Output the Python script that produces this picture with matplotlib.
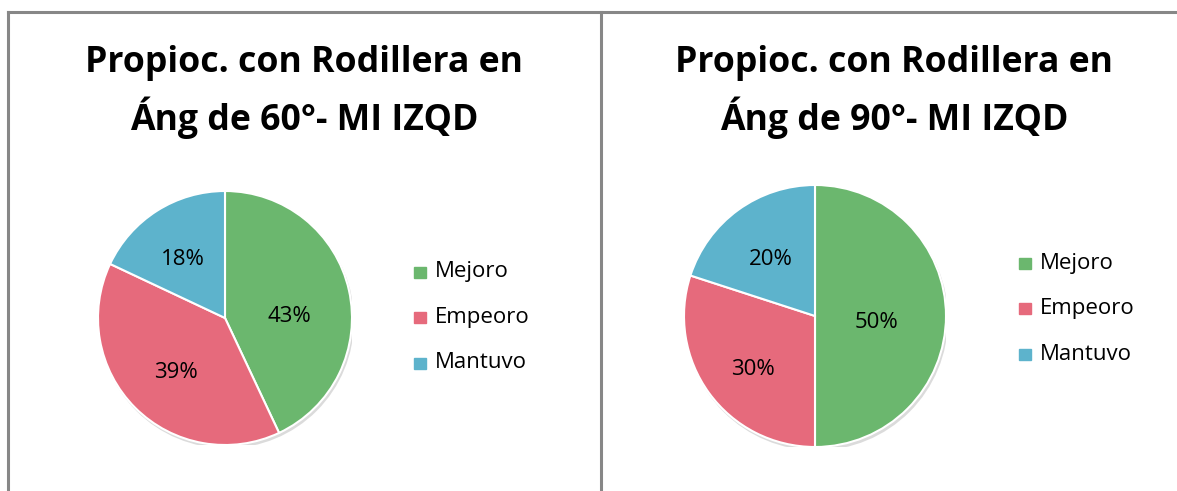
import matplotlib
matplotlib.use("Agg")
import matplotlib.pyplot as plt
from matplotlib.lines import Line2D
from matplotlib.patches import Circle

W, H = 1177, 491
DPI = 100

categories = ["Mejoro", "Empeoro", "Mantuvo"]
values_60 = [43, 39, 18]
values_90 = [50, 30, 20]
titles = [["Propioc. con Rodillera en", "Áng de 60°- MI IZQD"],
          ["Propioc. con Rodillera en", "Áng de 90°- MI IZQD"]]
colors = ["#6BB76E", "#E66A7C", "#5DB3CC"]

plt.rcParams['font.family'] = ['Open Sans', 'DejaVu Sans']

fig = plt.figure(figsize=(W / DPI, H / DPI), dpi=DPI)
fig.patch.set_facecolor("white")

def px(x, y):
    return x / W, 1 - y / H

# panel borders
border = "#878787"
for (x0, y0, x1, y1) in [(8, 12, W, 12), (8, 12, 8, H), (601, 12, 601, H)]:
    a, b = px(x0, y0)
    c, d = px(x1, y1)
    fig.add_artist(Line2D([a, c], [b, d], color=border, lw=2.2, transform=fig.transFigure))

panels = [
    dict(vals=values_60, title=titles[0], cx=225, cy=318, r=127, tx=304,
         lx=420, ly=272,
         lab=[(0.51, 0.01), (-0.39, -0.43), (-0.33, 0.46)]),
    dict(vals=values_90, title=titles[1], cx=815, cy=316, r=131, tx=894,
         lx=1025, ly=263,
         lab=[(0.47, -0.05), (-0.47, -0.41), (-0.34, 0.43)]),
]

for p in panels:
    r = p["r"]
    ax = fig.add_axes([(p["cx"] - r) / W, 1 - (p["cy"] + r) / H, 2 * r / W, 2 * r / H])
    ax.axis("off")
    # subtle shadow
    ax.add_patch(Circle((0.012, -0.022), 1.004, color="#c4c4c4", alpha=0.6, zorder=0, lw=0))
    wedges, texts, autotexts = ax.pie(
        p["vals"], colors=colors, startangle=90, counterclock=False,
        autopct=lambda v: f"{v:.0f}%", pctdistance=0.56, radius=1.0,
        wedgeprops=dict(edgecolor="white", linewidth=1.5),
        textprops=dict(fontsize=16, color="black"))
    ax.set_xlim(-1.0, 1.0)
    ax.set_ylim(-1.0, 1.0)
    ax.set_aspect("equal")
    for w in wedges:
        w.set_zorder(2)
    for t, pos in zip(autotexts, p["lab"]):
        t.set_position(pos)
        t.set_zorder(3)
    # title (two lines, baselines)
    for line, by in zip(p["title"], [72, 130]):
        tx, ty = px(p["tx"], by)
        fig.text(tx, ty, line, ha="center", va="baseline", fontsize=25.7,
                 fontweight="bold")
    # legend
    for i, (cat, col) in enumerate(zip(categories, colors)):
        yy = p["ly"] + i * 45.5
        mx, my = px(p["lx"], yy)
        fig.add_artist(plt.Rectangle((mx - 6 / W, my - 5.5 / H), 12 / W, 11 / H,
                                     color=col, transform=fig.transFigure))
        t_x, t_y = px(p["lx"] + 15, yy)
        fig.text(t_x, t_y, cat, ha="left", va="center", fontsize=16)

fig.savefig("out.png", dpi=DPI, facecolor="white")
